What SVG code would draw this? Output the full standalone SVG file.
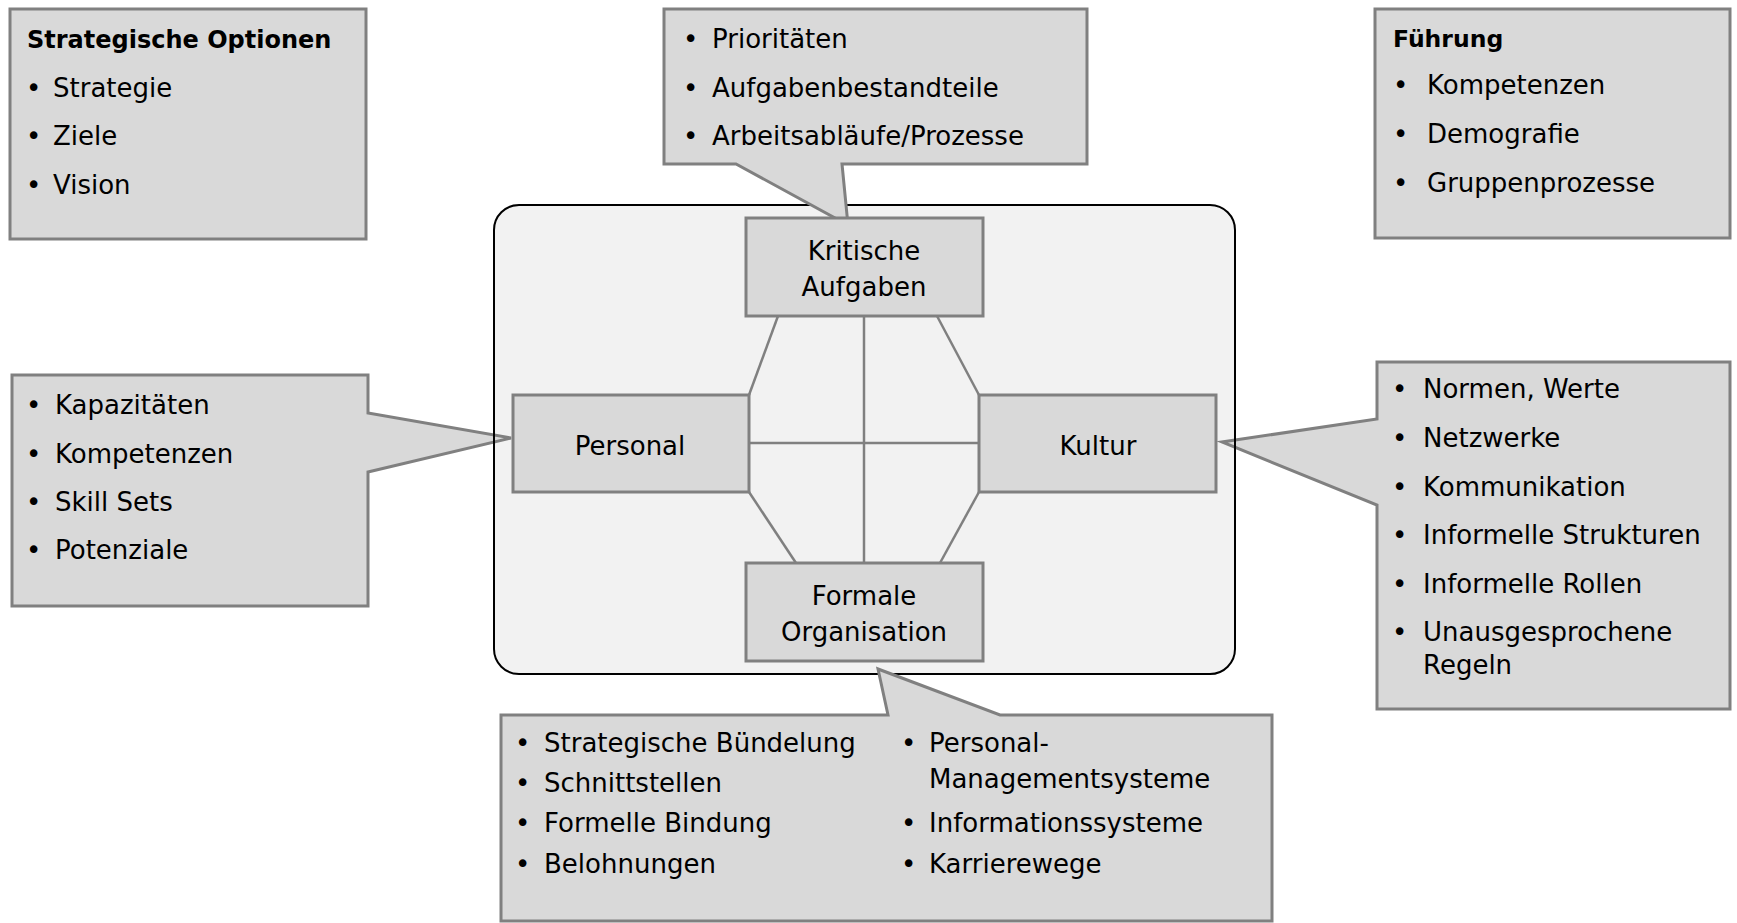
<svg xmlns="http://www.w3.org/2000/svg" width="1737" height="923" viewBox="0 0 1737 923">
<style>
.box{fill:#d9d9d9;stroke:#808080;stroke-width:3}
.outer-fill{fill:#f2f2f2;stroke:none}
.outer-line{fill:none;stroke:#000;stroke-width:2}
.con{stroke:#808080;stroke-width:2.5;fill:none}
text{font-family:"DejaVu Sans","Liberation Sans",sans-serif;font-size:26px;fill:#000}
text.title{font-weight:bold;font-size:24px}
text.title2{font-weight:bold;font-size:23.5px}
.c{text-anchor:middle}
</style>
<rect width="1737" height="923" fill="#fff"/>
<rect id="frame-bg" class="outer-fill" x="494" y="205" width="741" height="469" rx="25"/>

<g id="strategische-optionen">
<rect class="box" x="10" y="9" width="356" height="230"/>
<text class="title" x="27" y="48">Strategische Optionen</text>
<text x="26" y="97">•</text><text x="53" y="97">Strategie</text>
<text x="26" y="145">•</text><text x="53" y="145">Ziele</text>
<text x="26" y="194">•</text><text x="53" y="194">Vision</text>
</g>

<g id="fuehrung">
<rect class="box" x="1375" y="9" width="355" height="229"/>
<text class="title2" x="1393" y="47">Führung</text>
<text x="1393" y="94">•</text><text x="1427" y="94">Kompetenzen</text>
<text x="1393" y="143">•</text><text x="1427" y="143">Demografie</text>
<text x="1393" y="192">•</text><text x="1427" y="192">Gruppenprozesse</text>
</g>

<g id="callout-personal">
<polygon class="box" points="12,375 368,375 368,413 511,438 368,472 368,606 12,606"/>
<text x="26" y="414">•</text><text x="55" y="414">Kapazitäten</text>
<text x="26" y="463">•</text><text x="55" y="463">Kompetenzen</text>
<text x="26" y="511">•</text><text x="55" y="511">Skill Sets</text>
<text x="26" y="559">•</text><text x="55" y="559">Potenziale</text>
</g>

<g id="callout-kultur">
<polygon class="box" points="1377,362 1730,362 1730,709 1377,709 1377,505 1222,442 1377,419"/>
<text x="1392" y="398">•</text><text x="1423" y="398">Normen, Werte</text>
<text x="1392" y="447">•</text><text x="1423" y="447">Netzwerke</text>
<text x="1392" y="496">•</text><text x="1423" y="496">Kommunikation</text>
<text x="1392" y="544">•</text><text x="1423" y="544">Informelle Strukturen</text>
<text x="1392" y="593">•</text><text x="1423" y="593">Informelle Rollen</text>
<text x="1392" y="641">•</text><text x="1423" y="641">Unausgesprochene</text>
<text x="1423" y="674">Regeln</text>
</g>

<rect id="frame" class="outer-line" x="494" y="205" width="741" height="469" rx="25"/>

<g id="callout-aufgaben">
<polygon class="box" points="664,9 1087,9 1087,164 842,164 848,225 736,164 664,164"/>
<text x="683" y="48">•</text><text x="712" y="48">Prioritäten</text>
<text x="683" y="97">•</text><text x="712" y="97">Aufgabenbestandteile</text>
<text x="683" y="145">•</text><text x="712" y="145">Arbeitsabläufe/Prozesse</text>
</g>

<g id="callout-organisation">
<polygon class="box" points="501,715 888,715 878,669 1000,715 1272,715 1272,921 501,921"/>
<text x="515" y="752">•</text><text x="544" y="752">Strategische Bündelung</text>
<text x="515" y="792">•</text><text x="544" y="792">Schnittstellen</text>
<text x="515" y="832">•</text><text x="544" y="832">Formelle Bindung</text>
<text x="515" y="873">•</text><text x="544" y="873">Belohnungen</text>
<text x="901" y="752">•</text><text x="929" y="752">Personal-</text>
<text x="929" y="788">Managementsysteme</text>
<text x="901" y="832">•</text><text x="929" y="832">Informationssysteme</text>
<text x="901" y="873">•</text><text x="929" y="873">Karrierewege</text>
</g>

<g id="connectors">
<line class="con" x1="864" y1="316" x2="864" y2="563"/>
<line class="con" x1="749" y1="443" x2="979" y2="443"/>
<line class="con" x1="778" y1="316" x2="749" y2="395"/>
<line class="con" x1="937" y1="316" x2="979" y2="395"/>
<line class="con" x1="749" y1="492" x2="796" y2="563"/>
<line class="con" x1="979" y1="492" x2="940" y2="563"/>
</g>

<g id="kritische-aufgaben">
<rect class="box" x="746" y="218" width="237" height="98"/>
<text class="c" x="864" y="260">Kritische</text>
<text class="c" x="864" y="296">Aufgaben</text>
</g>
<g id="personal">
<rect class="box" x="513" y="395" width="236" height="97"/>
<text class="c" x="630" y="455">Personal</text>
</g>
<g id="kultur">
<rect class="box" x="979" y="395" width="237" height="97"/>
<text class="c" x="1098" y="455">Kultur</text>
</g>
<g id="formale-organisation">
<rect class="box" x="746" y="563" width="237" height="98"/>
<text class="c" x="864" y="605">Formale</text>
<text class="c" x="864" y="641">Organisation</text>
</g>
</svg>
